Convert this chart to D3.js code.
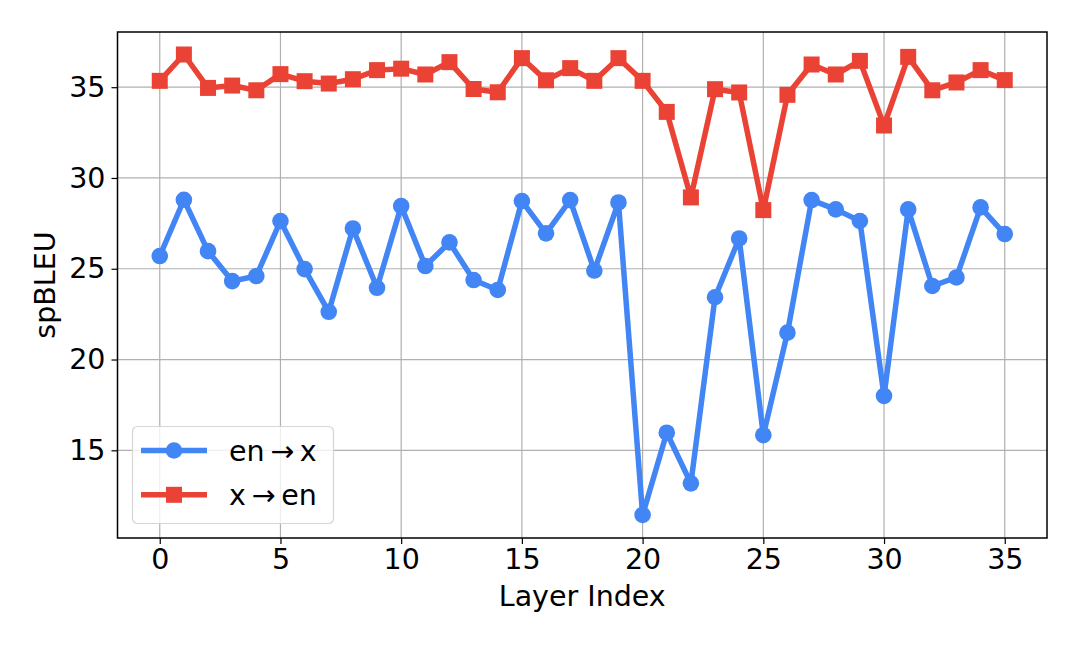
<!DOCTYPE html>
<html><head><meta charset="utf-8">
<script src="https://cdn.jsdelivr.net/npm/d3@7"></script>
<style>html,body{margin:0;padding:0;background:#fff}svg{display:block}text{font-family:"DejaVu Sans",sans-serif;fill:#000}</style>
</head><body><svg id="c" width="1080" height="648"></svg>
<script>
const layers = d3.range(0, 36);
const enToX = [25.70,28.80,25.97,24.32,24.60,27.63,24.98,22.63,27.22,23.95,28.45,25.15,26.45,24.38,23.83,28.73,26.95,28.78,24.90,28.65,11.44,15.97,13.18,23.43,26.67,15.83,21.48,28.78,28.27,27.63,18.00,28.27,24.05,24.52,28.38,26.91];
const xToEn = [35.35,36.80,34.96,35.09,34.83,35.72,35.33,35.20,35.44,35.94,36.02,35.70,36.38,34.90,34.72,36.60,35.38,36.05,35.35,36.60,35.35,33.64,28.93,34.89,34.71,28.23,34.58,36.25,35.70,36.45,32.89,36.67,34.83,35.26,35.94,35.39];
const xTicks = [0,5,10,15,20,25,30,35];
const yTicks = [15,20,25,30,35];
const seriesNames = ["en\u2009\u2192\u2009x","x\u2009\u2192\u2009en"];
const colors = ["#4285F4","#EA4335"];

const svg = d3.select("#c");
const L=117.5, R=1047, T=32, B=538;
const x = d3.scaleLinear().domain([-1.75,36.75]).range([L,R]);
const y = d3.scaleLinear().domain([10.17,38.04]).range([B,T]);

// grid
const g = svg.append("g");
g.selectAll(".gx").data(xTicks).join("line").attr("x1",d=>x(d)).attr("x2",d=>x(d)).attr("y1",T).attr("y2",B).attr("stroke","#b0b0b0").attr("stroke-width",1.2);
g.selectAll(".gy").data(yTicks).join("line").attr("y1",d=>y(d)).attr("y2",d=>y(d)).attr("x1",L).attr("x2",R).attr("stroke","#b0b0b0").attr("stroke-width",1.2);

// axes
const fs = 28.5;
const xa = svg.append("g").attr("transform",`translate(0,${B})`).call(d3.axisBottom(x).tickValues(xTicks).tickSize(6).tickPadding(5).tickFormat(d3.format("d")));
const ya = svg.append("g").attr("transform",`translate(${L},0)`).call(d3.axisLeft(y).tickValues(yTicks).tickSize(6).tickPadding(6).tickFormat(d3.format("d")));
[xa,ya].forEach(a=>{a.select(".domain").remove();a.selectAll("line").attr("stroke","#000").attr("stroke-width",1.2);a.selectAll("text").attr("font-size",fs).attr("font-family","DejaVu Sans").attr("fill","#000");});

// lines
const data = [enToX, xToEn];
const line = d3.line().x((d,i)=>x(layers[i])).y(d=>y(d));
data.forEach((s,k)=>{
  svg.append("path").datum(s).attr("d",line).attr("fill","none").attr("stroke",colors[k]).attr("stroke-width",5.5).attr("stroke-linejoin","round");
});
svg.selectAll(".c0").data(enToX).join("circle").attr("cx",(d,i)=>x(layers[i])).attr("cy",d=>y(d)).attr("r",8.3).attr("fill",colors[0]);
svg.selectAll(".s1").data(xToEn).join("rect").attr("x",(d,i)=>x(layers[i])-8).attr("y",d=>y(d)-8).attr("width",16).attr("height",16).attr("fill",colors[1]);

// frame
svg.append("rect").attr("x",L).attr("y",T).attr("width",R-L).attr("height",B-T).attr("fill","none").attr("stroke","#000").attr("stroke-width",1.5);

// labels
svg.append("text").attr("x",(L+R)/2).attr("y",606).attr("text-anchor","middle").attr("font-size",fs).text("Layer Index");
svg.append("text").attr("transform",`translate(55,${(T+B)/2}) rotate(-90)`).attr("text-anchor","middle").attr("font-size",fs).text("spBLEU");

// legend
const lg = svg.append("g");
lg.append("rect").attr("x",132.5).attr("y",426.5).attr("width",201).attr("height",97).attr("rx",5).attr("fill","#fff").attr("fill-opacity",0.8).attr("stroke","#d6d6d6").attr("stroke-width",1.2);
seriesNames.forEach((n,k)=>{
  const cy = 450.5 + k*44.3;
  lg.append("line").attr("x1",141).attr("x2",207).attr("y1",cy).attr("y2",cy).attr("stroke",colors[k]).attr("stroke-width",5.5);
  if(k===0) lg.append("circle").attr("cx",174).attr("cy",cy).attr("r",8.3).attr("fill",colors[k]);
  else lg.append("rect").attr("x",166).attr("y",cy-8).attr("width",16).attr("height",16).attr("fill",colors[k]);
  lg.append("text").attr("x",229).attr("y",cy+10).attr("font-size",fs).text(n);
});
</script></body></html>
